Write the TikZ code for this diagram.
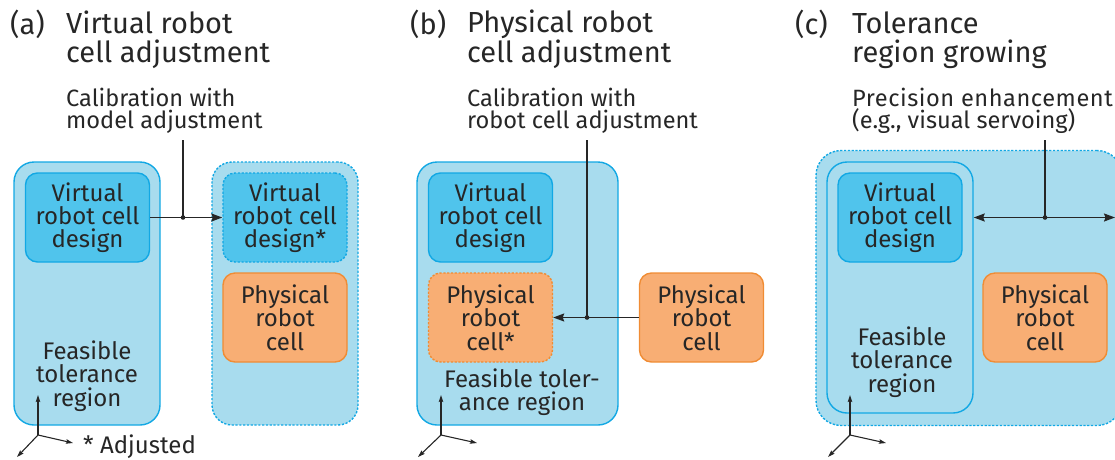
\documentclass[tikz,border=0pt]{standalone}
\usepackage{fontspec}
\setmainfont{Fira Sans}
\usetikzlibrary{arrows.meta}

\definecolor{regfill}{HTML}{A8DCEE}
\definecolor{blueline}{HTML}{12A8E4}
\definecolor{vfill}{HTML}{50C4EC}
\definecolor{pfill}{HTML}{F8AE74}
\definecolor{pline}{HTML}{F08C34}
\definecolor{ink}{HTML}{262626}

\newcommand{\titlefont}{\fontsize{29}{28.5}\selectfont}
\newcommand{\notefont}{\fontsize{23.6}{22}\selectfont}
\newcommand{\boxfont}{\fontsize{24}{23.3}\selectfont}

\tikzset{
  x=1pt, y=-1pt,
  region/.style={draw=blueline, fill=regfill, line width=1.4pt,
    rounded corners=20pt, inner sep=0pt},
  dashedline/.style={dash pattern=on 2.2pt off 1.6pt},
  cellbox/.style={line width=1.4pt, rounded corners=12pt,
    minimum width=124pt, minimum height=89pt, inner sep=0pt,
    align=center, font=\boxfont, text=ink},
  vbox/.style={cellbox, draw=blueline, fill=vfill},
  pbox/.style={cellbox, draw=pline, fill=pfill},
  label/.style={inner sep=0pt, text=ink, align=center, font=\boxfont},
  note/.style={inner sep=0pt, text=ink, align=left, font=\notefont, anchor=base west},
  title/.style={inner sep=0pt, text=ink, align=left, font=\titlefont, anchor=base west},
  conn/.style={draw=ink, line width=1.6pt},
  arr/.style={conn, -{Stealth[length=11pt, width=8pt, inset=1.5pt]}},
  axis/.style={draw=ink, line width=1.1pt, -{Stealth[length=7pt, width=4.5pt, inset=1pt]}},
  junction/.style={fill=ink},
}

\begin{document}
\begin{tikzpicture}
\useasboundingbox (0,0) rectangle (1115,459);
\clip (0,0) rectangle (1115,459);

% ---------- (a) virtual robot cell adjustment ----------
% multi-line texts are placed by the baseline of their last line
\node[title] (ta) at (10,34) {(a)};
\node[title] (tA) at (66,62) {Virtual robot\\cell adjustment};
\node[note] (nA) at (66,128) {Calibration with\\model adjustment};

\node[region, minimum width=146pt, minimum height=263pt] (regA) at (87,293.5) {};
\node[region, dashedline, minimum width=146pt, minimum height=263pt] (regA2) at (285,293.5) {};
\node[vbox] (vA) at (87.5,217.5) {Virtual\\robot cell\\design};
\node[vbox, dashedline] (vA2) at (285,217.5) {Virtual\\robot cell\\design*};
\node[pbox] (pA) at (285,317.5) {Physical\\robot\\cell};
\node[label] (fA) at (87,376) {Feasible\\tolerance\\region};

\coordinate (topA) at (183,140);
\coordinate (jA) at (183,217.5);
\draw[arr] (vA.east) -- (vA2.west);
\draw[conn] (topA) -- (jA);
\fill[junction] (jA) circle (2.3pt);

\coordinate (oA) at (38,435);
\coordinate (uA) at (38,395);
\coordinate (rA) at (73,443);
\coordinate (dA) at (17,457);
\draw[axis] (oA) -- (uA);
\draw[axis] (oA) -- (rA);
\draw[axis] (oA) -- (dA);
\node[note, font=\boxfont] (adj) at (83,453) {* Adjusted};

% ---------- (b) physical robot cell adjustment ----------
\node[title] (tb) at (410,34) {(b)};
\node[title] (tB) at (467,62) {Physical robot\\cell adjustment};
\node[note] (nB) at (467,128) {Calibration with\\robot cell adjustment};

\node[region, minimum width=201pt, minimum height=263pt] (regB) at (517.5,293.5) {};
\node[vbox] (vB) at (490.5,217.5) {Virtual\\robot cell\\design};
\node[pbox, dashedline] (pB2) at (490.5,317.5) {Physical\\robot\\cell*};
\node[pbox] (pB) at (701.5,317.5) {Physical\\robot\\cell};
\node[label] (fB) at (522,392) {Feasible toler-\\ance region};

\coordinate (topB) at (587,140);
\coordinate (jB) at (587,317.5);
\draw[arr] (pB.west) -- (pB2.east);
\draw[conn] (topB) -- (jB);
\fill[junction] (jB) circle (2.3pt);

\coordinate (oB) at (441,435);
\coordinate (uB) at (441,395);
\coordinate (rB) at (477,443);
\coordinate (dB) at (418,457);
\draw[axis] (oB) -- (uB);
\draw[axis] (oB) -- (rB);
\draw[axis] (oB) -- (dB);

% ---------- (c) tolerance region growing ----------
\node[title] (tc) at (795,34) {(c)};
\node[title] (tC) at (852,62) {Tolerance\\region growing};
\node[note] (nC) at (852,128) {{\addfontfeature{LetterSpace=2.3}Precision enhancement}\\(e.g., visual servoing)};

\node[region, dashedline, rounded corners=25pt, minimum width=306pt, minimum height=275pt] (regC) at (969,288) {};
\node[region, minimum width=146pt, minimum height=251pt] (regCin) at (900,287.5) {};
\node[vbox] (vC) at (900,217.5) {Virtual\\robot cell\\design};
\node[pbox] (pC) at (1045,317.5) {Physical\\robot\\cell};
\node[label] (fC) at (902,362) {Feasible\\tolerance\\region};

\coordinate (topC) at (1045,140);
\coordinate (jC) at (1045,217.5);
\coordinate (endC) at (1115,217.5);
\draw[arr] (jC) -- (jC -| regCin.east);
\draw[arr] (jC) -- (endC);
\draw[conn] (topC) -- (jC);
\fill[junction] (jC) circle (2.3pt);

\coordinate (oC) at (850,435);
\coordinate (uC) at (850,395);
\coordinate (rC) at (886,443);
\coordinate (dC) at (828,457);
\draw[axis] (oC) -- (uC);
\draw[axis] (oC) -- (rC);
\draw[axis] (oC) -- (dC);
\end{tikzpicture}
\end{document}
